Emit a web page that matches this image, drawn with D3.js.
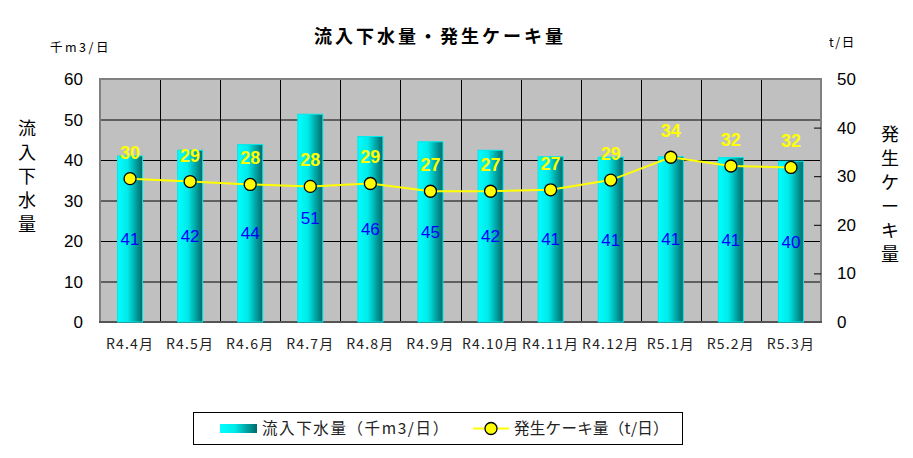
<!DOCTYPE html>
<html><head><meta charset="utf-8">
<script src="https://cdn.jsdelivr.net/npm/d3@7"></script>
<style>body{margin:0;background:#fff}svg{display:block}</style>
</head><body>
<svg id="c" width="913" height="458"></svg>
<script>
const categories = ["R4.4月","R4.5月","R4.6月","R4.7月","R4.8月","R4.9月","R4.10月","R4.11月","R4.12月","R5.1月","R5.2月","R5.3月"];
const inflow = [41.0, 42.4, 43.8, 51.3, 45.8, 44.5, 42.4, 40.8, 40.7, 40.8, 40.6, 39.7];
const cake = [29.5, 28.9, 28.3, 27.9, 28.5, 26.9, 26.9, 27.2, 29.2, 33.9, 32.1, 31.8];
const leftTicks = [0,10,20,30,40,50,60];
const rightTicks = [0,10,20,30,40,50];
const title = "流入下水量・発生ケーキ量";
const leftUnit = "千m3/日", rightUnit = "t/日";
const leftTitle = "流入下水量", rightTitle = "発生ケーキ量";
const legendLabels = ["流入下水量（千m3/日）","発生ケーキ量（t/日）"];

const svg = d3.select("#c");
const L = 100, R = 821, T = 79, B = 322;
const jp = "'Noto Sans CJK JP', sans-serif";
const num = "'Liberation Sans', Arial, sans-serif";

const x = d3.scaleBand().domain(categories).range([L, R]).paddingInner(0).paddingOuter(0);
const yL = d3.scaleLinear().domain([0, 60]).range([B, T]);
const yR = d3.scaleLinear().domain([0, 50]).range([B, T]);

const defs = svg.append("defs");
const g = defs.append("linearGradient").attr("id","barg").attr("x1","0").attr("x2","1").attr("y1","0").attr("y2","0");
g.append("stop").attr("offset","0%").attr("stop-color","#00ffff");
g.append("stop").attr("offset","40%").attr("stop-color","#00eaea");
g.append("stop").attr("offset","100%").attr("stop-color","#006868");

// plot background
svg.append("rect").attr("x",L).attr("y",T).attr("width",R-L).attr("height",B-T).attr("fill","#c0c0c0");

// horizontal grid
svg.append("g").selectAll("line").data(leftTicks.slice(1,-1)).join("line")
  .attr("x1",L).attr("x2",R).attr("y1",d=>yL(d)+0.5).attr("y2",d=>yL(d)+0.5)
  .attr("stroke","#000").attr("stroke-width",1);
// vertical grid
svg.append("g").selectAll("line").data(categories.slice(1)).join("line")
  .attr("x1",d=>Math.round(x(d))+0.5).attr("x2",d=>Math.round(x(d))+0.5).attr("y1",T).attr("y2",B)
  .attr("stroke","#000").attr("stroke-width",1);

// border
svg.append("path").attr("d",`M${L},${B}V${T}H${R}V${B}`).attr("fill","none").attr("stroke","#808080").attr("stroke-width",2);
svg.append("line").attr("x1",L-1).attr("x2",R+1).attr("y1",B).attr("y2",B).attr("stroke","#555").attr("stroke-width",2);

// right ticks (inward)
svg.append("g").selectAll("line").data(rightTicks.slice(1,-1)).join("line")
  .attr("x1",R-7).attr("x2",R).attr("y1",d=>yR(d)+0.5).attr("y2",d=>yR(d)+0.5).attr("stroke","#000");

// bars
const bw = 25;
svg.append("g").selectAll("rect").data(inflow).join("rect")
  .attr("x",(d,i)=>x(categories[i])+x.bandwidth()/2-bw/2)
  .attr("width",bw)
  .attr("y",d=>yL(d)).attr("height",d=>B-yL(d))
  .attr("fill","url(#barg)").attr("stroke","#00e8e8").attr("stroke-width",1);

// bar labels
svg.append("g").selectAll("text").data(inflow).join("text")
  .attr("x",(d,i)=>x(categories[i])+x.bandwidth()/2)
  .attr("y",d=>(yL(d)+B)/2+6)
  .attr("text-anchor","middle").attr("font-family",num).attr("font-size",17)
  .attr("fill","#0000ff").text(d=>Math.round(d));

// line
const line = d3.line().x((d,i)=>x(categories[i])+x.bandwidth()/2).y(d=>yR(d));
svg.append("path").datum(cake).attr("d",line).attr("fill","none").attr("stroke","#ffff00").attr("stroke-width",2);
svg.append("g").selectAll("circle").data(cake).join("circle")
  .attr("cx",(d,i)=>x(categories[i])+x.bandwidth()/2).attr("cy",d=>yR(d)).attr("r",6)
  .attr("fill","#ffff00").attr("stroke","#000").attr("stroke-width",1.3);
svg.append("g").selectAll("text").data(cake).join("text")
  .attr("x",(d,i)=>x(categories[i])+x.bandwidth()/2)
  .attr("y",d=>yR(d)-20)
  .attr("text-anchor","middle").attr("font-family",num).attr("font-weight","bold").attr("font-size",18)
  .attr("fill","#ffff00").text(d=>Math.round(d));

// left axis labels
svg.append("g").selectAll("text").data(leftTicks).join("text")
  .attr("x",83).attr("y",d=>yL(d)+6).attr("text-anchor","end")
  .attr("font-family",num).attr("font-size",17).attr("fill","#000").text(d=>d);
// right axis labels
svg.append("g").selectAll("text").data(rightTicks).join("text")
  .attr("x",837).attr("y",d=>yR(d)+6).attr("text-anchor","start")
  .attr("font-family",num).attr("font-size",17).attr("fill","#000").text(d=>d);

// category labels
svg.append("g").selectAll("text").data(categories).join("text")
  .attr("x",d=>x(d)+x.bandwidth()/2).attr("y",349).attr("text-anchor","middle")
  .attr("font-family",jp).attr("font-size",14).attr("letter-spacing",1.2).attr("fill","#222").text(d=>d);

// title
svg.append("text").attr("x",440).attr("y",43).attr("text-anchor","middle")
  .attr("font-family",jp).attr("font-weight","bold").attr("font-size",18).attr("letter-spacing",3).text(title);

// units
svg.append("text").attr("x",50).attr("y",52).attr("font-family",jp).attr("font-size",12.5).attr("letter-spacing",2.5).text(leftUnit);
svg.append("text").attr("x",829).attr("y",47).attr("font-family",jp).attr("font-size",12.5).attr("letter-spacing",1.5).text(rightUnit);

// vertical axis titles
svg.append("g").selectAll("text").data(Array.from(leftTitle)).join("text")
  .attr("x",27).attr("y",(d,i)=>135+i*24).attr("text-anchor","middle")
  .attr("font-family",jp).attr("font-size",18).text(d=>d);
svg.append("g").selectAll("text").data(Array.from(rightTitle)).join("text")
  .attr("x",890).attr("y",(d,i)=>141+i*24).attr("text-anchor","middle")
  .attr("font-family",jp).attr("font-size",18).text(d=>d);

// legend
const lg = svg.append("g");
lg.append("rect").attr("x",193.5).attr("y",412.5).attr("width",489).attr("height",32).attr("fill","#fff").attr("stroke","#000");
lg.append("rect").attr("x",220).attr("y",424).attr("width",37).attr("height",9).attr("fill","url(#barg)");
lg.append("text").attr("x",262).attr("y",434).attr("font-family",jp).attr("font-size",15.5).attr("letter-spacing",1.6).attr("fill","#222").text(legendLabels[0]);
lg.append("line").attr("x1",473).attr("x2",509).attr("y1",428.5).attr("y2",428.5).attr("stroke","#ffff00").attr("stroke-width",2);
lg.append("circle").attr("cx",491).attr("cy",428.5).attr("r",6).attr("fill","#ffff00").attr("stroke","#000").attr("stroke-width",1.3);
lg.append("text").attr("x",514).attr("y",434).attr("font-family",jp).attr("font-size",15.5).attr("letter-spacing",0.3).attr("fill","#222").text(legendLabels[1]);
</script>
</body></html>
